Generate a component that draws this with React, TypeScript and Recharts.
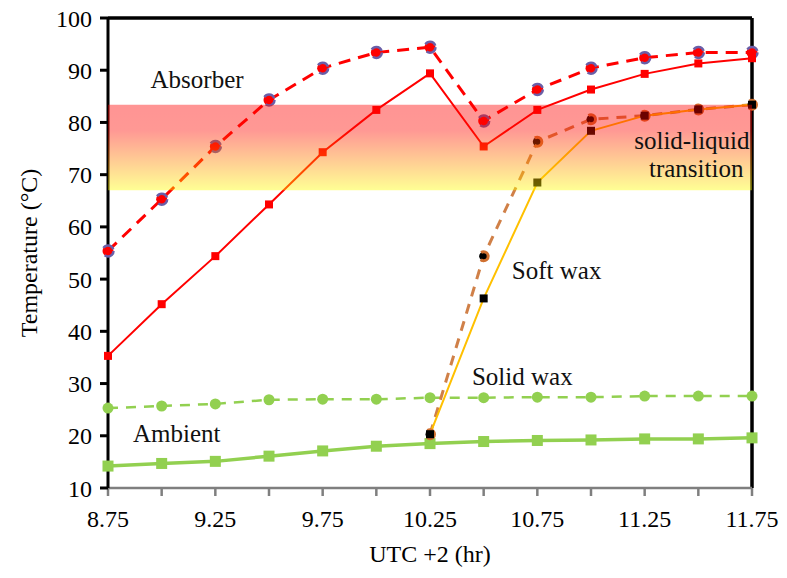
import {
  LineChart,
  Line,
  XAxis,
  YAxis,
  ReferenceArea,
  ReferenceLine,
  ReferenceDot,
} from 'recharts';

const hours = [8.75, 9, 9.25, 9.5, 9.75, 10, 10.25, 10.5, 10.75, 11, 11.25, 11.5, 11.75];
const absorberDashed = [55.4, 65.3, 75.4, 84.3, 90.4, 93.4, 94.4, 80.3, 86.3, 90.4, 92.4, 93.4, 93.4];
const absorberSolid = [35.3, 45.2, 54.4, 64.3, 74.3, 82.4, 89.4, 75.4, 82.4, 86.3, 89.3, 91.3, 92.3];
const solidWax = [25.3, 25.7, 26.1, 26.9, 27.0, 27.0, 27.3, 27.3, 27.4, 27.4, 27.6, 27.6, 27.6];
const ambient = [14.2, 14.7, 15.1, 16.1, 17.1, 18.0, 18.5, 18.9, 19.1, 19.2, 19.4, 19.4, 19.6];
const softWaxDashed = [null, null, null, null, null, null, 20.3, 54.4, 76.3, 80.6, 81.3, 82.5, 83.4];
const softWaxSolid = [null, null, null, null, null, null, 20.3, 46.3, 68.5, 78.4, 81.3, 82.5, 83.4];

const xTicks = [8.75, 9, 9.25, 9.5, 9.75, 10, 10.25, 10.5, 10.75, 11, 11.25, 11.5, 11.75];
const xLabelled = [8.75, 9.25, 9.75, 10.25, 10.75, 11.25, 11.75];
const yTicks = [10, 20, 30, 40, 50, 60, 70, 80, 90, 100];

// melting band (°C)
const bandLow = 67;
const bandHigh = 83.4;

const data = hours.map((h, i) => ({
  h,
  absD: absorberDashed[i],
  absS: absorberSolid[i],
  solid: solidWax[i],
  amb: ambient[i],
  softD: softWaxDashed[i],
  softS: softWaxSolid[i],
}));

const serif = "'Liberation Serif', 'Times New Roman', serif";

const squareDot = (size: number, fill: string) => (props: any) => {
  const { cx, cy, index } = props;
  if (cx == null || cy == null) return <g key={`sq-${index}`} />;
  return (
    <rect
      key={`sq-${index}`}
      x={cx - size / 2}
      y={cy - size / 2}
      width={size}
      height={size}
      fill={fill}
    />
  );
};

const note = (value: string) => ({
  value,
  position: 'center' as const,
  fill: '#111',
  fontSize: 25,
  fontFamily: serif,
});

export default function App() {
  return (
    <div style={{ position: 'absolute', left: 0, top: 0, background: '#fff' }}>
      <LineChart width={787} height={578} data={data} margin={{ top: 18, right: 35, left: 0, bottom: 0 }}>
        <defs>
          <linearGradient id="meltBand" x1="0" y1="0" x2="0" y2="1">
            <stop offset="0%" stopColor="#ff0000" />
            <stop offset="30%" stopColor="#ff0a00" />
            <stop offset="100%" stopColor="#ffff00" />
          </linearGradient>
        </defs>

        <XAxis
          dataKey="h"
          type="number"
          domain={[8.75, 11.75]}
          ticks={xTicks}
          tickFormatter={(v: number) => (xLabelled.includes(v) ? String(v) : '')}
          height={90}
          stroke="#7f7f7f"
          strokeWidth={2.5}
          tickSize={8}
          tickMargin={14}
          tick={{ fill: '#000', fontSize: 24, fontFamily: serif }}
          label={{ value: 'UTC +2 (hr)', position: 'insideBottom', offset: 16, fill: '#000', fontSize: 24, fontFamily: serif }}
        />
        <YAxis
          type="number"
          domain={[10, 100]}
          ticks={yTicks}
          width={108}
          stroke="#000"
          strokeWidth={3}
          tickSize={8}
          tickMargin={8}
          tick={{ fill: '#000', fontSize: 24, fontFamily: serif }}
          label={{
            value: 'Temperature (°C)',
            angle: -90,
            position: 'insideLeft',
            offset: 28,
            fill: '#000',
            fontSize: 24,
            fontFamily: serif,
            style: { textAnchor: 'middle' },
          }}
        />

        <ReferenceLine y={100} stroke="#000" strokeWidth={3.5} />
        <ReferenceLine x={11.75} stroke="#000" strokeWidth={3.5} />

        <Line
          dataKey="solid"
          stroke="#92d050"
          strokeWidth={2.5}
          strokeDasharray="10 8"
          dot={{ r: 5.5, fill: '#92d050', stroke: 'none' }}
          isAnimationActive={false}
        />
        <Line
          dataKey="amb"
          stroke="#92d050"
          strokeWidth={3.5}
          dot={squareDot(11, '#92d050')}
          isAnimationActive={false}
        />
        <Line
          dataKey="absD"
          stroke="#ff0000"
          strokeWidth={3}
          strokeDasharray="12 8"
          dot={{ r: 5.5, fill: '#ff0000', stroke: '#6a5fa8', strokeWidth: 2.5 }}
          isAnimationActive={false}
        />
        <Line
          dataKey="absS"
          stroke="#ff0000"
          strokeWidth={2}
          dot={squareDot(8, '#ff0000')}
          isAnimationActive={false}
        />
        <Line
          dataKey="softD"
          stroke="#d08048"
          strokeWidth={3}
          strokeDasharray="10 8"
          dot={{ r: 4.5, fill: '#000', stroke: '#d07030', strokeWidth: 3 }}
          isAnimationActive={false}
        />
        <Line
          dataKey="softS"
          stroke="#ffc000"
          strokeWidth={2}
          dot={squareDot(8, '#000')}
          isAnimationActive={false}
        />

        <ReferenceDot x={9.165} y={88.2} r={0} label={note('Absorber')} />
        <ReferenceDot x={11.47} y={76.7} r={0} label={note('solid-liquid')} />
        <ReferenceDot x={11.49} y={71.3} r={0} label={note('transition')} />
        <ReferenceDot x={10.84} y={51.8} r={0} label={note('Soft wax')} />
        <ReferenceDot x={10.68} y={31.5} r={0} label={note('Solid wax')} />
        <ReferenceDot x={9.07} y={20.5} r={0} label={note('Ambient')} />

        <ReferenceArea
          y1={bandLow}
          y2={bandHigh}
          fill="url(#meltBand)"
          fillOpacity={0.42}
          stroke="none"
          zIndex={1000}
        />
      </LineChart>
    </div>
  );
}
